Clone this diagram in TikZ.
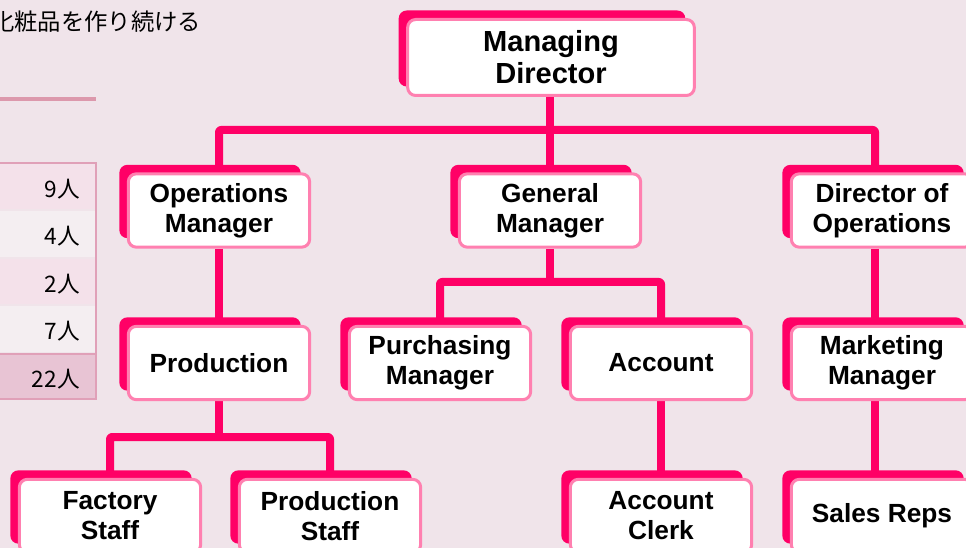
\documentclass[tikz,border=0pt]{standalone}
\usepackage{fontspec}
\setmainfont{Liberation Sans}
\newfontfamily\cjk{Noto Sans CJK JP}
\usetikzlibrary{shadows}
\definecolor{bgc}{HTML}{F0E4EA}
\definecolor{hot}{HTML}{FF0066}
\definecolor{rim}{HTML}{FF80B0}
\definecolor{tbord}{HTML}{E0A0B8}
\definecolor{rowa}{HTML}{F4E1EA}
\definecolor{rowb}{HTML}{F4EEF1}
\definecolor{rowt}{HTML}{E8C4D4}
\definecolor{uline}{HTML}{DC98AC}
\pgfdeclarelayer{bglayer}
\pgfdeclarelayer{linelayer}
\pgfsetlayers{bglayer,linelayer,main}
\tikzset{
  orgbox/.style={draw=rim, line width=2.25pt, fill=white, rounded corners=6pt,
    minimum width=136pt, minimum height=55pt, align=center, inner sep=0pt,
    font=\fontsize{19.7}{22.5}\selectfont\bfseries,
    general shadow={fill=hot, draw=none, shadow xshift=-6.75pt, shadow yshift=6.75pt}},
  conn/.style={draw=hot, line width=6pt, line join=round, rounded corners=1.5pt},
  cell/.style={anchor=east, inner sep=0pt, font=\cjk\fontsize{17}{17}\selectfont}
}
\begin{document}
\begin{tikzpicture}[x=0.75pt, y=-0.75pt]
\useasboundingbox (0,0) rectangle (966,548);
\begin{pgfonlayer}{bglayer}
  \fill[bgc] (0,0) rectangle (966,548);
\end{pgfonlayer}

% title and rule
\node[anchor=west, inner sep=0pt, font=\cjk\fontsize{17.5}{17.5}\selectfont] (title) at (-9,22) {化粧品を作り続ける};
\fill[uline] (-10,97.5) rectangle (96,101);

% table
\fill[rowa] (-10,163) rectangle (96,209);
\fill[rowb] (-10,211) rectangle (96,257);
\fill[rowa] (-10,259) rectangle (96,304);
\fill[rowb] (-10,306) rectangle (96,352);
\fill[rowt] (-10,354) rectangle (96,399);
\draw[tbord, line width=1.5pt] (-10,163) -- (96,163) -- (96,399) -- (-10,399);
\draw[tbord, line width=1.5pt] (-10,354) -- (96,354);
\node[cell] (t1) at (80,189) {9人};
\node[cell] (t2) at (80,236) {4人};
\node[cell] (t3) at (80,284) {2人};
\node[cell] (t4) at (80,331) {7人};
\node[cell] (t5) at (80,379) {22人};

% org boxes
\node[orgbox, minimum width=215pt, minimum height=57pt, font=\fontsize{21.8}{24}\selectfont\bfseries] (md) at (551,57.5) {Managing\\Director};
\node[orgbox] (om) at (219,210.5) {Operations\\Manager};
\node[orgbox] (gm) at (550,210.5) {General\\Manager};
\node[orgbox] (dop) at (882,210.5) {Director of\\Operations};
\node[orgbox] (prod) at (219,363) {Production};
\node[orgbox] (pm) at (440,363) {Purchasing\\Manager};
\node[orgbox] (acc) at (661,363) {Account};
\node[orgbox] (mkt) at (882,363) {Marketing\\Manager};
\node[orgbox] (fs) at (110,516) {Factory\\Staff};
\node[orgbox] (ps) at (330,516) {Production\\Staff};
\node[orgbox] (ac) at (661,516) {Account\\Clerk};
\node[orgbox] (sr) at (882,516) {Sales Reps};

\coordinate (rx) at (875,0);
\coordinate (b1) at (0,130);
\coordinate (b2) at (0,282);
\coordinate (b3) at (0,437);

\begin{pgfonlayer}{linelayer}
  \draw[conn] (md.south -| gm.north) -- (gm.north);
  \draw[conn] (om.north) -- (om.north |- b1) -- (rx |- b1) -- (rx |- dop.north);
  \draw[conn] (om.south) -- (prod.north);
  \draw[conn] (gm.south) -- (gm.south |- b2);
  \draw[conn] (pm.north) -- (pm.north |- b2) -- (acc.north |- b2) -- (acc.north);
  \draw[conn] (rx |- dop.south) -- (rx |- mkt.north);
  \draw[conn] (prod.south) -- (prod.south |- b3);
  \draw[conn] (fs.north) -- (fs.north |- b3) -- (ps.north |- b3) -- (ps.north);
  \draw[conn] (acc.south) -- (ac.north);
  \draw[conn] (rx |- mkt.south) -- (rx |- sr.north);
\end{pgfonlayer}
\end{tikzpicture}
\end{document}
